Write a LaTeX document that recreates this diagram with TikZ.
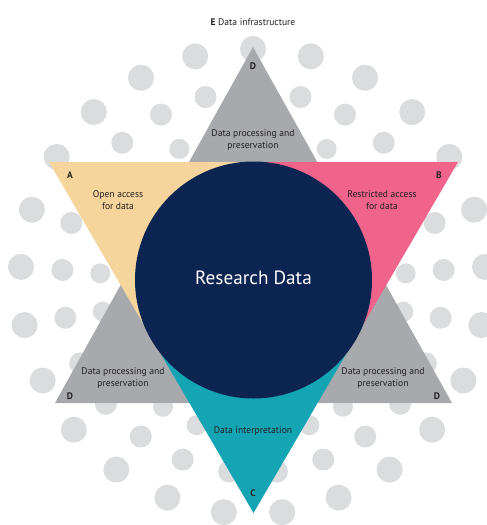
\documentclass[tikz,border=0pt]{standalone}
\usepackage{fontspec}
\setmainfont{PT Sans}
\usetikzlibrary{calc}
\definecolor{dotgray}{HTML}{DBDCDE}
\definecolor{trigray}{HTML}{A7A9AC}
\definecolor{openyel}{HTML}{F6D59C}
\definecolor{restpink}{HTML}{F0648C}
\definecolor{interteal}{HTML}{14A5B5}
\definecolor{rdnavy}{HTML}{0C2451}
\definecolor{txt}{HTML}{231F20}
\begin{document}
\begin{tikzpicture}[x=1pt,y=-1pt,
  lbl/.style={font=\fontsize{9.6}{12}\selectfont, text=txt, align=center, inner sep=0pt},
  letter/.style={font=\fontsize{9.5}{10}\selectfont\bfseries, text=txt, inner sep=0pt},
  bigtext/.style={font=\fontsize{19.2}{21}\selectfont, text=white, inner sep=0pt}]
\useasboundingbox (0,0) rectangle (487,525);
\fill[white] (0,0) rectangle (487,525);
% background dots: three rings of 25
\foreach \k in {0,...,24}{
  \pgfmathsetmacro\a{90+14.4*\k}
  \fill[dotgray] ({253+232.5*cos(\a)},{281.5-232.5*sin(\a)}) circle (13pt);
  \fill[dotgray] ({253+191*cos(\a)},{282-191*sin(\a)}) circle (11pt);
}
\foreach \k in {2,4,5,...,21,23}{
  \pgfmathsetmacro\a{90+14.4*\k}
  \fill[dotgray] ({253+153*cos(\a)},{283-153*sin(\a)}) circle (10pt);
}
% geometry
\coordinate (gT) at (253,47);
\coordinate (gL) at (55,403);
\coordinate (gR) at (452,403);
\coordinate (dL) at (49,162);
\coordinate (dR) at (458,162);
\coordinate (dB) at (253.5,513);
\coordinate (O) at (253.5,280);
\coordinate (mT) at (253.5,162);
\coordinate (qL) at ($(dL)!0.545!(dB)$);
\coordinate (qR) at ($(dR)!0.545!(dB)$);
% upward gray triangle
\fill[trigray] (gT) -- (gL) -- (gR) -- cycle;
% downward triangle in three parts
\fill[openyel] (dL) -- (mT) -- (O) -- (qL) -- cycle;
\fill[restpink] (mT) -- (dR) -- (qR) -- (O) -- cycle;
\fill[interteal] (qL) -- (O) -- (qR) -- (dB) -- cycle;
% central circle
\fill[rdnavy] (O) circle (118.5pt);
% texts
\node[bigtext] (rd) at (253.5,278) {Research Data};
\node[font=\fontsize{9.6}{11}\selectfont, text=txt, inner sep=0pt] (infra) at (253,22) {{\fontsize{9.5}{11}\selectfont\bfseries E}\ Data infrastructure};
\node[letter] (dtop) at (253,66) {D};
\node[lbl] (dptop) at (253,140) {Data processing and\\preservation};
\node[letter] (la) at (70,175) {A};
\node[lbl] (open) at (118,200) {Open access\\for data};
\node[letter] (lb) at (439,175) {B};
\node[lbl] (rest) at (382,200) {Restricted access\\for data};
\node[lbl] (dpleft) at (123,378) {Data processing and\\preservation};
\node[letter] (dleft) at (70,396) {D};
\node[lbl] (dpright) at (383,378) {Data processing and\\preservation};
\node[letter] (dright) at (437,396) {D};
\node[lbl] (interp) at (253,431) {Data interpretation};
\node[letter] (lc) at (253,493) {C};
\end{tikzpicture}
\end{document}
